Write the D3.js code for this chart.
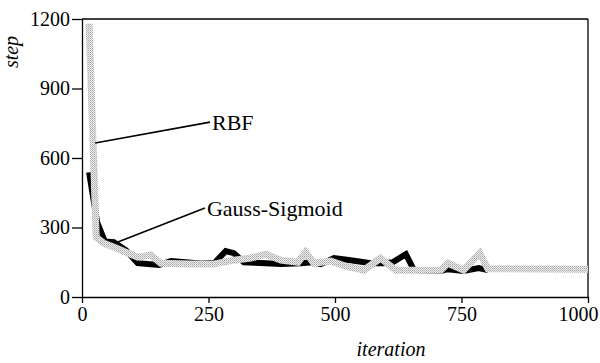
<!DOCTYPE html>
<html>
<head>
<meta charset="utf-8">
<script src="https://cdn.jsdelivr.net/npm/d3@7"></script>
</head>
<body style="margin:0">
<script>
// values
var xTicks = [0, 250, 500, 750, 1000];
var yTicks = [0, 300, 600, 900, 1200];

var rbfIter = [14, 28, 43, 67, 110, 136, 156, 215, 260, 300, 334, 363, 393, 427, 442, 458, 492, 521, 557, 590, 620, 656, 709, 723, 754, 786, 802, 1000];
var rbfStep = [1180, 258, 232, 211, 172, 181, 146, 142, 142, 159, 168, 185, 159, 150, 194, 146, 155, 133, 116, 168, 116, 116, 116, 146, 116, 189, 122, 120];

var gsIter = [14, 30, 45, 63, 87, 110, 152, 176, 235, 262, 284, 300, 320, 363, 393, 432, 456, 472, 498, 531, 571, 596, 614, 640, 656, 709, 723, 754, 784, 802];
var gsStep = [538, 322, 240, 237, 202, 146, 138, 155, 145, 148, 198, 189, 150, 146, 142, 146, 150, 142, 168, 159, 146, 146, 150, 185, 116, 112, 120, 112, 125, 116];

// annotation: [label, line start iter, line start step, label iter, label step]
var notes = [
  ["RBF", 26, 665, 253, 755],
  ["Gauss-Sigmoid", 71, 237, 243, 384]
];

var fontName = "Liberation Serif";

var width = 600, height = 363;
var margin = {left: 82, right: 12, top: 19, bottom: 66};

var svg = d3.select("body").append("svg")
            .attr("width", width)
            .attr("height", height);

// halftone look for the grey line
var defs = svg.append("defs");
var pat = defs.append("pattern")
              .attr("id", "dots")
              .attr("patternUnits", "userSpaceOnUse")
              .attr("width", 2)
              .attr("height", 2);
pat.append("rect").attr("width", 2).attr("height", 2).attr("fill", "#eeeeee");
pat.append("rect").attr("width", 1).attr("height", 1).attr("fill", "#a6a6a6");
pat.append("rect").attr("x", 1).attr("y", 1).attr("width", 1).attr("height", 1).attr("fill", "#c0c0c0");

var x = d3.scaleLinear().domain([0, 1000]).range([margin.left, width - margin.right]);
var y = d3.scaleLinear().domain([0, 1200]).range([height - margin.bottom, margin.top]);

// frame top + right
svg.append("line")
   .attr("x1", x(0)).attr("x2", x(1000))
   .attr("y1", y(1200)).attr("y2", y(1200))
   .attr("stroke", "#000").attr("stroke-width", 1.3);
svg.append("line")
   .attr("x1", x(1000)).attr("x2", x(1000))
   .attr("y1", y(1200)).attr("y2", y(0))
   .attr("stroke", "#000").attr("stroke-width", 1.3);

var bAxis = d3.axisBottom(x).tickValues(xTicks).tickFormat(d3.format("d"))
              .tickSize(6).tickSizeOuter(0).tickPadding(4);
var lAxis = d3.axisLeft(y).tickValues(yTicks).tickFormat(d3.format("d"))
              .tickSize(10).tickSizeOuter(0).tickPadding(2);

var bAxisGroup = svg.append("g")
                    .attr("transform", "translate(0," + y(0) + ")")
                    .call(bAxis);
var lAxisGroup = svg.append("g")
                    .attr("transform", "translate(" + x(0) + ",0)")
                    .call(lAxis);

[bAxisGroup, lAxisGroup].forEach(function(g){
  g.attr("font-family", null).attr("font-size", null);
  g.selectAll("path, line").attr("stroke", "#000").attr("stroke-width", 1.3);
  g.selectAll("text").attr("fill", "#000")
   .style("font-family", function(){ return fontName; })
   .style("font-size", "20px");
});
// last x label sits against the page edge
bAxisGroup.selectAll("text")
          .filter(function(d){ return d == 1000; })
          .attr("text-anchor", "end")
          .attr("dx", 10);

// axis titles
svg.append("text")
   .attr("x", 391).attr("y", 356)
   .attr("text-anchor", "middle")
   .style("font-family", fontName)
   .style("font-size", "20px")
   .style("font-style", "italic")
   .text("iteration");
svg.append("text")
   .attr("transform", "translate(18,52) rotate(-90)")
   .attr("text-anchor", "middle")
   .style("font-family", fontName)
   .style("font-size", "20px")
   .style("font-style", "italic")
   .text("step");

var line = d3.line()
             .x(function(d){ return x(d[0]); })
             .y(function(d){ return y(d[1]); });

var gsData = gsIter.map(function(v, i){ return [v, gsStep[i]]; });
var rbfData = rbfIter.map(function(v, i){ return [v, rbfStep[i]]; });

svg.append("path")
   .datum(gsData)
   .attr("d", line)
   .attr("fill", "none")
   .attr("stroke", "#000")
   .attr("stroke-width", 6)
   .attr("stroke-linejoin", "miter");

svg.append("path")
   .datum(rbfData)
   .attr("d", line)
   .attr("fill", "none")
   .attr("stroke", "url(#dots)")
   .attr("stroke-width", 7)
   .attr("stroke-linejoin", "miter");

// callouts
notes.forEach(function(n){
  svg.append("line")
     .attr("x1", x(n[1])).attr("y1", y(n[2]))
     .attr("x2", x(n[3])).attr("y2", y(n[4]))
     .attr("stroke", "#000").attr("stroke-width", 1.6);
  svg.append("text")
     .attr("x", x(n[3]) + 2).attr("y", y(n[4]) + 8)
     .style("font-family", fontName)
     .style("font-size", "22px")
     .text(n[0]);
});
</script>
</body>
</html>
